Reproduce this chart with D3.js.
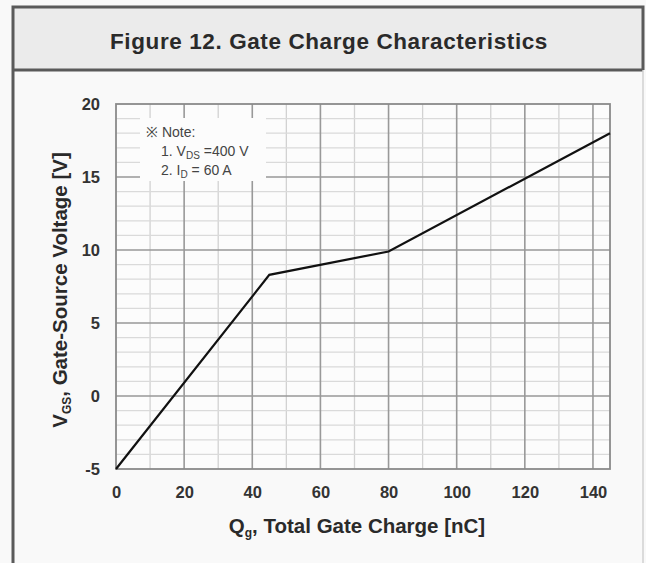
<!DOCTYPE html>
<html>
<head>
<meta charset="utf-8">
<script src="https://cdn.jsdelivr.net/npm/d3@7"></script>
<style>
  html, body { margin: 0; padding: 0; background: #f9f9f9; }
  svg { display: block; }
</style>
</head>
<body>
<svg id="chart" width="646" height="563"></svg>
<script>
// ---- data ----
const chargeNC = [0, 45, 80, 145];
const vgsV = [-5, 8.3, 9.9, 18];
const xTicks = [0, 20, 40, 60, 80, 100, 120, 140];
const yTicks = [-5, 0, 5, 10, 15, 20];
const xMinor = [10, 30, 50, 70, 90, 110, 130];
const yMinor = [-4, -3, -2, -1, 1, 2, 3, 4, 6, 7, 8, 9, 11, 12, 13, 14, 16, 17, 18, 19];
const titleText = "Figure 12. Gate Charge Characteristics";
const noteLines = ["※ Note:", "1. V", "2. I"];

const svg = d3.select("#chart");
const font = "'Liberation Sans', Arial, sans-serif";

// frame
svg.append("rect").attr("x", 13).attr("y", 7).attr("width", 630).attr("height", 63)
  .attr("fill", "#ebebeb");
svg.append("path").attr("d", "M13,563 L13,7 L643,7 L643,70")
  .attr("fill", "none").attr("stroke", "#5a5a5a").attr("stroke-width", 3);
svg.append("line").attr("x1", 13).attr("x2", 643).attr("y1", 70).attr("y2", 70)
  .attr("stroke", "#5a5a5a").attr("stroke-width", 3);
svg.append("line").attr("x1", 643).attr("x2", 643).attr("y1", 70).attr("y2", 563)
  .attr("stroke", "#d0d0d0").attr("stroke-width", 1.5);

svg.append("text").attr("x", 329).attr("y", 49).attr("text-anchor", "middle")
  .attr("font-family", font).attr("font-weight", "bold").attr("font-size", 22.5)
  .attr("letter-spacing", 0.6)
  .attr("fill", "#2a2a2a").text(titleText);

// plot
const L = 116, R = 610, T = 104, B = 469;
const x = d3.scaleLinear().domain([0, 145]).range([L, R]);
const y = d3.scaleLinear().domain([-5, 20]).range([B, T]);

svg.append("rect").attr("x", L).attr("y", T).attr("width", R - L).attr("height", B - T)
  .attr("fill", "#fcfcfc");

const g = svg.append("g");
// minor grid
g.selectAll(".vmin").data(xMinor).enter().append("line")
  .attr("x1", d => x(d)).attr("x2", d => x(d)).attr("y1", T).attr("y2", B)
  .attr("stroke", "#d2d2d2").attr("stroke-width", 1.3);
g.selectAll(".hmin").data(yMinor).enter().append("line")
  .attr("x1", L).attr("x2", R).attr("y1", d => y(d)).attr("y2", d => y(d))
  .attr("stroke", "#dadada").attr("stroke-width", 1.3);
// major grid
g.selectAll(".vmaj").data(xTicks.filter(d => d > 0)).enter().append("line")
  .attr("x1", d => x(d)).attr("x2", d => x(d)).attr("y1", T).attr("y2", B)
  .attr("stroke", "#999").attr("stroke-width", 1.6);
g.selectAll(".hmaj").data(yTicks.filter(d => d > -5 && d < 20)).enter().append("line")
  .attr("x1", L).attr("x2", R).attr("y1", d => y(d)).attr("y2", d => y(d))
  .attr("stroke", "#999").attr("stroke-width", 1.6);

// note box
svg.append("rect").attr("x", 140).attr("y", 118).attr("width", 126).attr("height", 63)
  .attr("fill", "#fcfcfc");
const note = svg.append("g").attr("font-family", font).attr("font-size", 14).attr("fill", "#444");
note.append("text").attr("x", 146).attr("y", 137).text(noteLines[0]);
const t1 = note.append("text").attr("x", 161).attr("y", 156);
t1.append("tspan").text(noteLines[1]);
t1.append("tspan").attr("font-size", 10).attr("dy", 3).text("DS");
t1.append("tspan").attr("dy", -3).text(" =400 V");
const t2 = note.append("text").attr("x", 161).attr("y", 175);
t2.append("tspan").text(noteLines[2]);
t2.append("tspan").attr("font-size", 10).attr("dy", 3).text("D");
t2.append("tspan").attr("dy", -3).text(" = 60 A");

// border
svg.append("rect").attr("x", L).attr("y", T).attr("width", R - L).attr("height", B - T)
  .attr("fill", "none").attr("stroke", "#8a8a8a").attr("stroke-width", 1.8);

// axes
const fmt = d => String(d);
const xAxis = d3.axisBottom(x).tickValues(xTicks).tickFormat(fmt).tickSize(0).tickPadding(17);
const xa = svg.append("g").attr("transform", `translate(0,${B})`).call(xAxis);
const yAxis = d3.axisLeft(y).tickValues(yTicks).tickFormat(fmt).tickSize(0).tickPadding(16);
const ya = svg.append("g").attr("transform", `translate(${L},0)`).call(yAxis);
[xa, ya].forEach(a => {
  a.select(".domain").remove();
  a.selectAll("text").attr("font-family", font).attr("font-size", 16.5)
    .attr("font-weight", "bold").attr("fill", "#333");
});

// line
const pts = chargeNC.map((c, i) => [c, vgsV[i]]);
svg.append("path").datum(pts)
  .attr("d", d3.line().x(d => x(d[0])).y(d => y(d[1])))
  .attr("fill", "none").attr("stroke", "#111").attr("stroke-width", 2.2);

// axis titles
const xt = svg.append("text").attr("x", 357).attr("y", 533).attr("text-anchor", "middle")
  .attr("font-family", font).attr("font-weight", "bold").attr("font-size", 20.5).attr("fill", "#2a2a2a");
xt.append("tspan").text("Q");
xt.append("tspan").attr("font-size", 12).attr("dy", 4).text("g");
xt.append("tspan").attr("dy", -4).text(", Total Gate Charge [nC]");

const yt = svg.append("text").attr("transform", "translate(67,290) rotate(-90)")
  .attr("text-anchor", "middle")
  .attr("font-family", font).attr("font-weight", "bold").attr("font-size", 20.5).attr("fill", "#2a2a2a");
yt.append("tspan").text("V");
yt.append("tspan").attr("font-size", 12).attr("dy", 4).text("GS");
yt.append("tspan").attr("dy", -4).text(", Gate-Source Voltage [V]");
</script>
</body>
</html>
